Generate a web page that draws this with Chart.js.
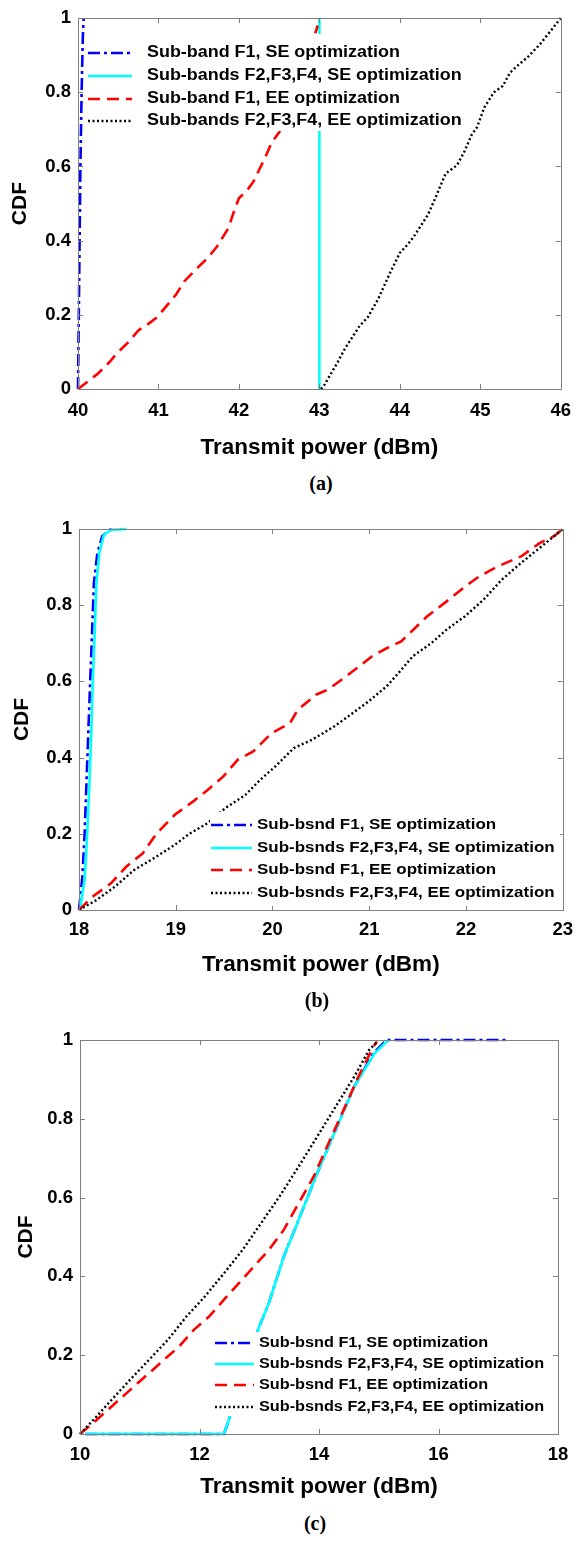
<!DOCTYPE html>
<html>
<head>
<meta charset="utf-8">
<script src="https://cdn.jsdelivr.net/npm/chart.js@4.4.0/dist/chart.umd.min.js"></script>
<style>
  body { margin: 0; background: #fff; width: 582px; height: 1543px; position: relative; overflow: hidden; }
  canvas { position: absolute; left: 0; }
  .cap { position: absolute; font: bold 20px "Liberation Serif", "Times New Roman", serif; color: #000; transform: translate(-50%, -50%); }
</style>
</head>
<body>
<canvas id="chartA" width="582" height="470" style="top:0px"></canvas>
<canvas id="chartB" width="582" height="490" style="top:500px"></canvas>
<canvas id="chartC" width="582" height="500" style="top:1010px"></canvas>
<div class="cap" style="left:321px;top:483px">(a)</div>
<div class="cap" style="left:317px;top:1000px">(b)</div>
<div class="cap" style="left:315px;top:1523px">(c)</div>
<script>
// ---- data: [transmit power dBm, CDF] ----
const labelsA = ['Sub-band F1, SE optimization', 'Sub-bands F2,F3,F4, SE optimization',
                 'Sub-band F1, EE optimization', 'Sub-bands F2,F3,F4, EE optimization'];
const labelsBC = ['Sub-bsnd F1, SE optimization', 'Sub-bsnds F2,F3,F4, SE optimization',
                  'Sub-bsnd F1, EE optimization', 'Sub-bsnds F2,F3,F4, EE optimization'];

const yTicks = [0, 0.2, 0.4, 0.6, 0.8, 1];
const xTicksA = [40, 41, 42, 43, 44, 45, 46];
const xTicksB = [18, 19, 20, 21, 22, 23];
const xTicksC = [10, 12, 14, 16, 18];

// (a)
const aF1SE = [[40,0],[40.01,0.2],[40.02,0.4],[40.03,0.6],[40.045,0.8],[40.06,0.95],[40.07,1]];
const aF234SE = [[43,0],[43,1]];
const aF1EE = [[40,0],[40.12,0.02],[40.25,0.042],[40.38,0.07],[40.5,0.1],[40.62,0.125],[40.75,0.158],
  [40.87,0.175],[40.98,0.193],[41.12,0.229],[41.22,0.255],[41.32,0.29],[41.5,0.33],[41.62,0.355],
  [41.73,0.385],[41.87,0.434],[41.94,0.48],[42.0,0.514],[42.1,0.535],[42.18,0.559],[42.32,0.621],
  [42.41,0.666],[42.5,0.692],[42.94,0.953],[42.98,0.98]];
const aF234EE = [[43.02,0],[43.05,0.006],[43.14,0.04],[43.23,0.073],[43.32,0.11],[43.41,0.14],
  [43.5,0.17],[43.6,0.193],[43.73,0.242],[43.87,0.309],[44.0,0.367],[44.1,0.39],[44.19,0.416],
  [44.35,0.47],[44.44,0.514],[44.57,0.581],[44.71,0.603],[44.8,0.639],[44.89,0.684],[44.96,0.706],
  [45.05,0.759],[45.17,0.8],[45.28,0.817],[45.37,0.853],[45.46,0.871],[45.6,0.897],[45.74,0.929],
  [45.87,0.964],[46,1]];

// (b)
const bF1SE = [[18,0],[18.035,0.088],[18.058,0.2],[18.077,0.333],[18.096,0.464],[18.115,0.595],
  [18.135,0.727],[18.154,0.858],[18.19,0.937],[18.24,0.981],[18.32,0.998],[18.37,1]];
const bF234SE = [[18.008,0],[18.058,0.079],[18.085,0.2],[18.108,0.333],[18.127,0.464],[18.142,0.595],
  [18.162,0.727],[18.18,0.858],[18.21,0.937],[18.258,0.985],[18.335,0.998],[18.49,1]];
const bF1EE = [[18,0],[18.14,0.035],[18.33,0.07],[18.49,0.114],[18.66,0.149],[18.8,0.2],[18.99,0.25],
  [19.18,0.285],[19.33,0.315],[19.49,0.35],[19.64,0.394],[19.8,0.416],[19.99,0.464],[20.18,0.49],
  [20.26,0.525],[20.45,0.565],[20.57,0.578],[20.76,0.613],[21.03,0.666],[21.18,0.687],[21.33,0.705],
  [21.49,0.744],[21.6,0.771],[21.8,0.81],[21.99,0.849],[22.14,0.876],[22.33,0.902],[22.57,0.928],
  [22.76,0.963],[22.91,0.981],[23,1]];
const bF234EE = [[18,0],[18.18,0.026],[18.37,0.061],[18.57,0.105],[18.8,0.14],[18.99,0.171],
  [19.14,0.2],[19.33,0.228],[19.51,0.267],[19.72,0.302],[19.87,0.341],[20.03,0.377],[20.22,0.425],
  [20.41,0.447],[20.64,0.482],[20.83,0.517],[20.99,0.547],[21.18,0.587],[21.33,0.63],[21.45,0.666],
  [21.64,0.7],[21.8,0.736],[21.99,0.771],[22.18,0.814],[22.37,0.867],[22.57,0.911],[22.76,0.95],
  [22.91,0.981],[23,1]];

// (c)
const cF1SE = [[10.09,0],[12.41,0],[12.5,0.04],[12.99,0.269],[13.16,0.332],[13.41,0.45],[13.66,0.544],
  [13.97,0.662],[14.28,0.772],[14.59,0.882],[14.91,0.966],[15.13,1],[17.13,1]];
const cF234SE = [[10.09,0],[12.41,0],[12.5,0.04],[12.99,0.269],[13.16,0.332],[13.41,0.45],[13.66,0.544],
  [13.97,0.662],[14.28,0.772],[14.59,0.882],[14.93,0.966],[15.16,1]];
const cF1EE = [[10,0],[10.28,0.036],[10.53,0.07],[10.84,0.112],[11.16,0.155],[11.41,0.189],
  [11.66,0.222],[11.91,0.265],[12.16,0.298],[12.41,0.341],[12.66,0.383],[12.91,0.425],[13.16,0.467],
  [13.41,0.518],[13.66,0.586],[13.91,0.653],[14.16,0.738],[14.41,0.822],[14.66,0.907],[14.91,0.983],
  [14.97,0.996]];
const cF234EE = [[10,0],[10.28,0.045],[10.53,0.087],[10.84,0.138],[11.16,0.189],[11.47,0.239],
  [11.78,0.298],[12.09,0.349],[12.41,0.408],[12.72,0.467],[13.03,0.535],[13.34,0.603],[13.66,0.679],
  [13.97,0.755],[14.28,0.831],[14.59,0.907],[14.84,0.975],[14.98,0.996]];

// line styles, matlab order: -. blue, - cyan, -- red, : black
const styles = [
  { color: '#0000ff', dash: [12, 4, 3, 4], width: 2.6 },
  { color: '#00ffff', dash: [], width: 2.6 },
  { color: '#ff0000', dash: [12, 7], width: 2.6 },
  { color: '#000000', dash: [2, 2.5], width: 2.4 }
];

const FONT = '"Liberation Sans", Arial, sans-serif';

// box, inward ticks and the legend (white box, no border) drawn over the lines
const matlabFrame = {
  id: 'matlabFrame',
  afterDatasetsDraw(chart, args, opts) {
    const ctx = chart.ctx;
    const a = chart.chartArea;
    const xs = chart.scales.x, ys = chart.scales.y;
    ctx.save();
    ctx.strokeStyle = '#808080';
    ctx.lineWidth = 1;
    ctx.setLineDash([]);
    ctx.beginPath();
    xs.ticks.forEach(t => {
      const px = Math.round(xs.getPixelForValue(t.value)) + 0.5;
      ctx.moveTo(px, a.bottom); ctx.lineTo(px, a.bottom - 5);
      ctx.moveTo(px, a.top); ctx.lineTo(px, a.top + 5);
    });
    ys.ticks.forEach(t => {
      const py = Math.round(ys.getPixelForValue(t.value)) + 0.5;
      ctx.moveTo(a.left, py); ctx.lineTo(a.left + 5, py);
      ctx.moveTo(a.right, py); ctx.lineTo(a.right - 5, py);
    });
    ctx.stroke();
    ctx.strokeRect(Math.round(a.left) + 0.5, Math.round(a.top) + 0.5,
                   Math.round(a.right - a.left), Math.round(a.bottom - a.top));

    // legend
    const b = opts.box;
    ctx.fillStyle = '#fff';
    ctx.fillRect(b[0], b[1], b[2] - b[0], b[3] - b[1]);
    ctx.font = 'bold ' + opts.fontSize + 'px ' + FONT;
    ctx.textBaseline = 'middle';
    ctx.textAlign = 'left';
    chart.data.datasets.forEach((ds, i) => {
      const y = opts.rows[i];
      ctx.strokeStyle = ds.borderColor;
      ctx.lineWidth = ds.borderWidth;
      ctx.setLineDash(ds.borderDash);
      ctx.beginPath();
      ctx.moveTo(opts.line[0], y); ctx.lineTo(opts.line[1], y);
      ctx.stroke();
      // the figure's text is a bit wider than Liberation Sans
      ctx.save();
      ctx.translate(opts.textX, y);
      ctx.scale(opts.stretch, 1);
      ctx.fillStyle = '#000';
      ctx.fillText(ds.label, 0, 0);
      ctx.restore();
    });
    ctx.restore();
  }
};

function makeChart(id, c) {
  const datasets = c.series.map((s, i) => ({
    label: c.labels[i],
    data: s.map(p => ({ x: p[0], y: p[1] })),
    borderColor: styles[i].color,
    borderDash: styles[i].dash,
    borderWidth: styles[i].width,
    pointRadius: 0,
    tension: 0,
    fill: false,
    clip: false,
    order: 3 - i
  }));
  return new Chart(document.getElementById(id), {
    type: 'line',
    data: { datasets },
    options: {
      responsive: false,
      animation: false,
      devicePixelRatio: 1,
      layout: { padding: { left: 0, top: c.top, right: c.right, bottom: 0 } },
      plugins: {
        legend: { display: false },
        tooltip: { enabled: false },
        matlabFrame: c.legend
      },
      scales: {
        x: {
          type: 'linear',
          min: c.xTicks[0],
          max: c.xTicks[c.xTicks.length - 1],
          afterBuildTicks: s => { s.ticks = c.xTicks.map(v => ({ value: v })); },
          afterFit: s => { s.height = c.xHeight; },
          grid: { display: false, drawTicks: false },
          border: { display: false },
          ticks: { color: '#000', font: { family: FONT, size: 18.5, weight: 'bold' },
                   padding: c.xTickPad, maxRotation: 0, autoSkip: false },
          title: { display: true, text: 'Transmit power (dBm)', color: '#000',
                   font: { family: FONT, size: 22.5, weight: 'bold' },
                   padding: { top: 0, bottom: c.xTitlePad } }
        },
        y: {
          min: 0,
          max: 1,
          afterBuildTicks: s => { s.ticks = yTicks.map(v => ({ value: v })); },
          afterFit: s => { s.width = c.yWidth; },
          grid: { display: false, drawTicks: false },
          border: { display: false },
          ticks: { color: '#000', font: { family: FONT, size: 18.5, weight: 'bold' },
                   padding: 7, callback: v => String(v) },
          title: { display: true, text: 'CDF', color: '#000',
                   font: { family: FONT, size: 21, weight: 'bold' },
                   padding: { top: c.yTitlePad, bottom: 0 } }
        }
      }
    },
    plugins: [matlabFrame]
  });
}

makeChart('chartA', {
  labels: labelsA, series: [aF1SE, aF234SE, aF1EE, aF234EE], xTicks: xTicksA,
  top: 15, right: 14, yWidth: 78, xHeight: 81, xTickPad: 11, xTitlePad: 8.5, yTitlePad: 7.4,
  legend: { box: [86, 34, 472, 131], rows: [53, 76, 99, 121], line: [88, 132], textX: 147,
            fontSize: 16, stretch: 1.12 }
});
makeChart('chartB', {
  labels: labelsBC, series: [bF1SE, bF234SE, bF1EE, bF234EE], xTicks: xTicksB,
  top: 29, right: 17, yWidth: 79, xHeight: 80, xTickPad: 9, xTitlePad: 11.5, yTitlePad: 9.4,
  legend: { box: [210, 312, 560, 406], rows: [325, 348, 370, 393], line: [211, 252], textX: 257,
            fontSize: 15, stretch: 1.13 }
});
makeChart('chartC', {
  labels: labelsBC, series: [cF1SE, cF234SE, cF1EE, cF234EE], xTicks: xTicksC,
  top: 30, right: 24, yWidth: 80, xHeight: 76, xTickPad: 10, xTitlePad: 9.5, yTitlePad: 13.4,
  legend: { box: [213, 322, 552, 406], rows: [333, 354, 375, 397], line: [215, 254], textX: 259,
            fontSize: 14.5, stretch: 1.12 }
});
</script>
</body>
</html>
